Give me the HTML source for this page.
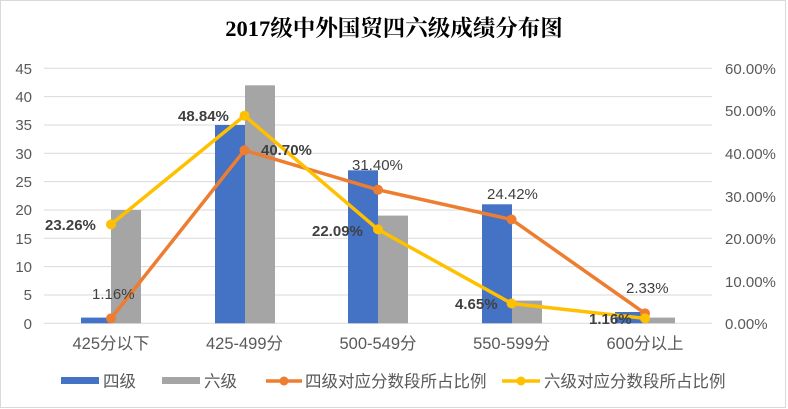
<!DOCTYPE html>
<html><head><meta charset="utf-8"><style>
html,body{margin:0;padding:0;background:#fff;}
svg{display:block;font-family:"Liberation Sans","Noto Sans CJK SC",sans-serif;}
</style></head><body>
<svg width="788" height="409" viewBox="0 0 788 409" xmlns="http://www.w3.org/2000/svg">
<rect x="0.5" y="0.5" width="785" height="407" fill="#fff" stroke="#d9d9d9"/>
<text x="394" y="36" text-anchor="middle" font-family="Liberation Serif,'Noto Serif CJK SC',serif" font-weight="bold" font-size="22.5" fill="#000">2017级中外国贸四六级成绩分布图</text>
<g stroke="#d9d9d9" stroke-width="1">
<line x1="44" x2="712" y1="68.3" y2="68.3"/><line x1="44" x2="712" y1="96.6" y2="96.6"/><line x1="44" x2="712" y1="125" y2="125"/><line x1="44" x2="712" y1="153.3" y2="153.3"/><line x1="44" x2="712" y1="181.6" y2="181.6"/><line x1="44" x2="712" y1="210" y2="210"/><line x1="44" x2="712" y1="238.3" y2="238.3"/><line x1="44" x2="712" y1="266.6" y2="266.6"/><line x1="44" x2="712" y1="295" y2="295"/><line x1="44" x2="712" y1="323.3" y2="323.3"/>
</g>
<g font-size="15" fill="#595959" text-anchor="end">
<text x="32" y="74">45</text><text x="32" y="102">40</text><text x="32" y="130">35</text><text x="32" y="159">30</text><text x="32" y="187">25</text><text x="32" y="215">20</text><text x="32" y="244">15</text><text x="32" y="272">10</text><text x="32" y="300">5</text><text x="32" y="329">0</text>
</g>
<g font-size="15" fill="#595959">
<text x="725" y="74">60.00%</text><text x="725" y="116">50.00%</text><text x="725" y="159">40.00%</text><text x="725" y="202">30.00%</text><text x="725" y="244">20.00%</text><text x="725" y="287">10.00%</text><text x="725" y="329">0.00%</text>
</g>
<g fill="#4472c4">
<rect x="81" y="317.6" width="30" height="5.7"/>
<rect x="215" y="125" width="30" height="198.3"/>
<rect x="348" y="170.3" width="30" height="153"/>
<rect x="482" y="204.3" width="30" height="119"/>
<rect x="615" y="312" width="30" height="11.3"/>
</g>
<g fill="#a5a5a5">
<rect x="111" y="210" width="30" height="113.3"/>
<rect x="245" y="85.3" width="30" height="238"/>
<rect x="378" y="215.6" width="30" height="107.7"/>
<rect x="512" y="300.6" width="30" height="22.7"/>
<rect x="645" y="317.6" width="30" height="5.7"/>
</g>
<polyline fill="none" stroke="#ed7d31" stroke-width="3.5" points="111,318.4 244.5,150.3 378,189.8 511.6,219.5 645,313.4"/>
<g fill="#ed7d31"><circle cx="111" cy="318.4" r="5"/><circle cx="244.5" cy="150.3" r="5"/><circle cx="378" cy="189.8" r="5"/><circle cx="511.6" cy="219.5" r="5"/><circle cx="645" cy="313.4" r="5"/></g>
<polyline fill="none" stroke="#ffc000" stroke-width="3.5" points="111,224.4 244.5,115.7 378,229.4 511.6,303.5 645,318.4"/>
<g fill="#ffc000"><circle cx="111" cy="224.4" r="5"/><circle cx="244.5" cy="115.7" r="5"/><circle cx="378" cy="229.4" r="5"/><circle cx="511.6" cy="303.5" r="5"/><circle cx="645" cy="318.4" r="5"/></g>
<g font-size="15" fill="#404040">
<text x="92" y="299">1.16%</text>
<text x="352" y="170">31.40%</text>
<text x="487" y="199">24.42%</text>
<text x="626" y="293">2.33%</text>
</g>
<g font-size="15" fill="#404040" font-weight="bold">
<text x="45" y="230">23.26%</text>
<text x="178" y="121">48.84%</text>
<text x="261" y="155">40.70%</text>
<text x="312" y="236">22.09%</text>
<text x="455" y="309">4.65%</text>
<text x="589" y="324">1.16%</text>
</g>
<g font-size="16.5" fill="#595959" text-anchor="middle">
<text x="111" y="349">425分以下</text><text x="244.5" y="349">425-499分</text><text x="378" y="349">500-549分</text><text x="511.6" y="349">550-599分</text><text x="645" y="349">600分以上</text>
</g>
<g font-size="16.5" fill="#595959">
<rect x="61" y="377" width="38" height="7" fill="#4472c4"/><text x="103" y="387">四级</text>
<rect x="162" y="377" width="38" height="7" fill="#a5a5a5"/><text x="204" y="387">六级</text>
<line x1="266" x2="302" y1="381" y2="381" stroke="#ed7d31" stroke-width="3.5"/><circle cx="284" cy="381" r="4.5" fill="#ed7d31"/><text x="305" y="387">四级对应分数段所占比例</text>
<line x1="502" x2="540" y1="381" y2="381" stroke="#ffc000" stroke-width="3.5"/><circle cx="521" cy="381" r="4.5" fill="#ffc000"/><text x="544" y="387">六级对应分数段所占比例</text>
</g>
</svg>
</body></html>
